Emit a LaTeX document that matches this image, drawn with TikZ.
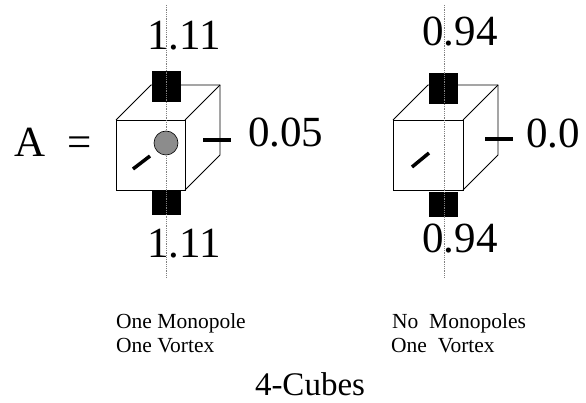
\documentclass[tikz,border=0pt]{standalone}
\usepackage{fontspec}
\setmainfont{Liberation Serif}
\usetikzlibrary{positioning}
\definecolor{monogray}{gray}{0.55}

\begin{document}
\begin{tikzpicture}[x=1pt, y=-1pt,
    edge/.style={line width=0.9pt},
    plaq/.style={fill=black},
    link/.style={line width=3.5pt},
    axis/.style={gray, line width=0.8pt, densely dotted},
    big/.style={font=\fontsize{43}{48}\selectfont, inner sep=0pt},
    small/.style={font=\fontsize{21.5}{24}\selectfont, inner sep=0pt},
    ]
  \useasboundingbox (0,0) rectangle (586,403);
  % left cube: one monopole
  \draw[edge] (116,120) rectangle (185,190);
  \draw[edge] (116,120) -- (151,85) -- (220,85) -- (220,155) -- (185,190);
  \draw[edge] (185,120) -- (220,85);
  \fill[plaq] (152,71) rectangle (181,102);
  \fill[plaq] (152,190) rectangle (181,215);
  \draw[link] (133,169) -- (150,156);
  \draw[link] (203,140) -- (231,140);
  \draw[axis] (166,5) -- (166,277);
  \filldraw[fill=monogray, draw=black, line width=0.6pt] (166,143) circle (12);
  % right cube: no monopoles
  \draw[edge] (393,120) rectangle (463,190);
  \draw[edge] (393,120) -- (428,85) -- (498,85) -- (498,155) -- (463,190);
  \draw[edge] (463,120) -- (498,85);
  \fill[plaq] (429,73) rectangle (458,104);
  \fill[plaq] (429,192) rectangle (458,217);
  \draw[link] (412,167) -- (429,153);
  \draw[link] (485,139) -- (513,139);
  \draw[axis] (444,5) -- (444,277);
  % values
  \node[big, anchor=base west] (A) at (14,157) {A};
  \node[big, anchor=base] (eq) at (79.5,157) {=};
  \node[big, anchor=base] (topL) at (184,50) {1.11};
  \node[big, anchor=base] (botL) at (184,258) {1.11};
  \node[big, anchor=base west] (sideL) at (248,147) {0.05};
  \node[big, anchor=base] (topR) at (460,46) {0.94};
  \node[big, anchor=base] (botR) at (460,253) {0.94};
  \node[big, anchor=base west] (sideR) at (526,148) {0.0};
  % captions
  \node[small, anchor=base west] (monoL) at (116,328) {One Monopole};
  \node[small, anchor=base west] (vortL) at (116,352) {One Vortex};
  \node[small, anchor=base west] (monoR) at (392,328) {No\ \ Monopoles};
  \node[small, anchor=base west] (vortR) at (391,352) {One\ \ Vortex};
  \node[font=\fontsize{33}{38}\selectfont, inner sep=0pt, anchor=base] (title) at (310,395) {4-Cubes};
\end{tikzpicture}
\end{document}
